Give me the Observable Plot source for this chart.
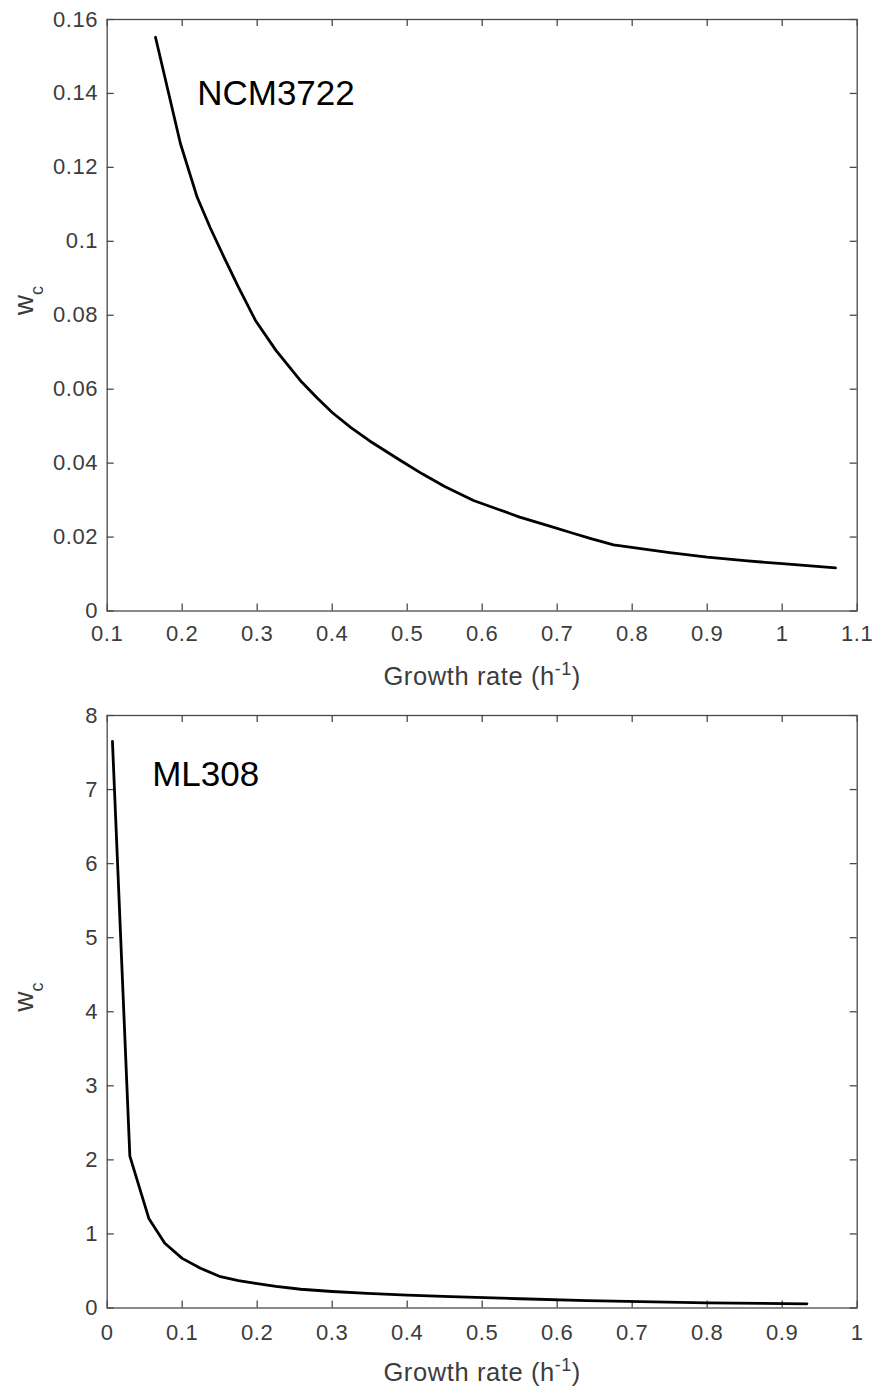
<!DOCTYPE html>
<html><head><meta charset="utf-8">
<script src="https://cdn.jsdelivr.net/npm/d3@7"></script>
<script src="https://cdn.jsdelivr.net/npm/@observablehq/plot@0.6"></script>
<style>
html,body{margin:0;padding:0;background:#fff;}
#chart svg{display:block;}
</style></head><body><div id="chart"></div>
<script>
// ---- data ----
const ncmGrowth = [0.1644, 0.1977, 0.22, 0.2375, 0.2555, 0.275, 0.2977, 0.325, 0.3577, 0.38, 0.40, 0.425, 0.45, 0.4911, 0.52, 0.55, 0.5884, 0.62, 0.65, 0.67, 0.6911, 0.72, 0.745, 0.7751, 0.85, 0.90, 0.95, 1.00, 1.0711];
const ncmWc     = [0.1552, 0.1264, 0.1119, 0.1036, 0.0958, 0.0876, 0.0786, 0.0705, 0.0623, 0.0576, 0.0537, 0.0496, 0.0460, 0.0407, 0.0371, 0.0337, 0.0299, 0.0276, 0.0254, 0.0242, 0.0229, 0.0211, 0.0196, 0.0179, 0.0158, 0.01455, 0.0136, 0.0128, 0.01169];
const mlGrowth  = [0.007, 0.0302, 0.0555, 0.0768, 0.10, 0.1244, 0.151, 0.175, 0.198, 0.225, 0.258, 0.30, 0.347, 0.40, 0.458, 0.55, 0.64, 0.80, 0.933];
const mlWc      = [7.65, 2.05, 1.21, 0.874, 0.67, 0.536, 0.423, 0.371, 0.333, 0.291, 0.253, 0.223, 0.198, 0.1725, 0.153, 0.125, 0.100, 0.068, 0.057];

const ncmXTicks = [0.1, 0.2, 0.3, 0.4, 0.5, 0.6, 0.7, 0.8, 0.9, 1, 1.1];
const ncmYTicks = [0, 0.02, 0.04, 0.06, 0.08, 0.1, 0.12, 0.14, 0.16];
const mlXTicks  = [0, 0.1, 0.2, 0.3, 0.4, 0.5, 0.6, 0.7, 0.8, 0.9, 1];
const mlYTicks  = [0, 1, 2, 3, 4, 5, 6, 7, 8];

const strainNames = ["NCM3722", "ML308"];
const strainLabelGrowth = [0.22, 0.06];
const strainLabelWc = [0.14, 7.2];
const xAxisTitle = "Growth rate (h-1)";
const yAxisTitle = "wc";

// ---- drawing ----
const W = 876, ML = 106.7, MR = 19.3;
const axisGray = "#4a4a4a", textGray = "#3c3c3c";
const fmt = d3.format("~g");

function panel(o) {
  const innerH = o.height - o.marginTop - o.marginBottom;
  const innerW = W - ML - MR;
  const tk = 7;
  const series = o.xs.map((x, i) => ({x, y: o.ys[i]}));
  const svg = Plot.plot({
    width: W, height: o.height,
    marginTop: o.marginTop, marginBottom: o.marginBottom,
    marginLeft: ML, marginRight: MR,
    style: {fontFamily: "'Liberation Sans', Arial, sans-serif", fontSize: "22px", background: "#fff"},
    x: {domain: o.xDomain},
    y: {domain: o.yDomain},
    marks: [
      Plot.frame({stroke: axisGray, strokeWidth: 1.3}),
      Plot.ruleX(o.xTicks, {x: d => d, insetTop: innerH - tk, stroke: axisGray, strokeWidth: 1.3}),
      Plot.ruleX(o.xTicks, {x: d => d, insetBottom: innerH - tk, stroke: axisGray, strokeWidth: 1.3}),
      Plot.ruleY(o.yTicks, {y: d => d, insetRight: innerW - tk, stroke: axisGray, strokeWidth: 1.3}),
      Plot.ruleY(o.yTicks, {y: d => d, insetLeft: innerW - tk, stroke: axisGray, strokeWidth: 1.3}),
      Plot.axisX({ticks: o.xTicks, tickSize: 0, tickPadding: o.xPad, tickFormat: fmt, label: null, color: textGray, fontSize: 22}),
      Plot.axisY({ticks: o.yTicks, tickSize: 0, tickPadding: 9, tickFormat: fmt, label: null, color: textGray, fontSize: 22}),
      Plot.line(series, {x: "x", y: "y", stroke: "#000", strokeWidth: 2.8, strokeLinejoin: "round"}),
      Plot.text([o.name], {x: o.labelX, y: o.labelY, text: d => d, textAnchor: "start", lineAnchor: "middle", fontSize: 35, fill: "#000"}),
      Plot.text([xAxisTitle], {frameAnchor: "bottom", dy: o.xTitleDy, text: d => d, lineAnchor: "middle", fontSize: 25.5, fill: textGray}),
      Plot.text([yAxisTitle], {frameAnchor: "left", dx: -83, rotate: -90, text: d => d, lineAnchor: "middle", fontSize: 28, fill: textGray})
    ]
  });
  svg.querySelectorAll("text").forEach(t => {
    if (t.textContent === xAxisTitle) {
      t.innerHTML = 'Growth rate (h<tspan baseline-shift="super" font-size="70%">-1</tspan>)';
      t.setAttribute("letter-spacing", "0.6");
    } else if (t.textContent === yAxisTitle) {
      t.innerHTML = 'w<tspan baseline-shift="sub" font-size="65%">c</tspan>';
    }
  });
  svg.querySelectorAll('g[aria-label="x-axis tick label"] text, g[aria-label="y-axis tick label"] text')
    .forEach(t => t.setAttribute("letter-spacing", "0.6"));
  return svg;
}

const root = document.getElementById("chart");
root.appendChild(panel({
  xs: ncmGrowth, ys: ncmWc, xTicks: ncmXTicks, yTicks: ncmYTicks,
  xDomain: [0.1, 1.1], yDomain: [0, 0.16],
  name: strainNames[0], labelX: strainLabelGrowth[0], labelY: strainLabelWc[0],
  height: 700, marginTop: 19, marginBottom: 89.5, xTitleDy: 66, xPad: 14
}));
root.appendChild(panel({
  xs: mlGrowth, ys: mlWc, xTicks: mlXTicks, yTicks: mlYTicks,
  xDomain: [0, 1], yDomain: [0, 8],
  name: strainNames[1], labelX: strainLabelGrowth[1], labelY: strainLabelWc[1],
  height: 691, marginTop: 15, marginBottom: 83.5, xTitleDy: 65, xPad: 16
}));
</script></body></html>
